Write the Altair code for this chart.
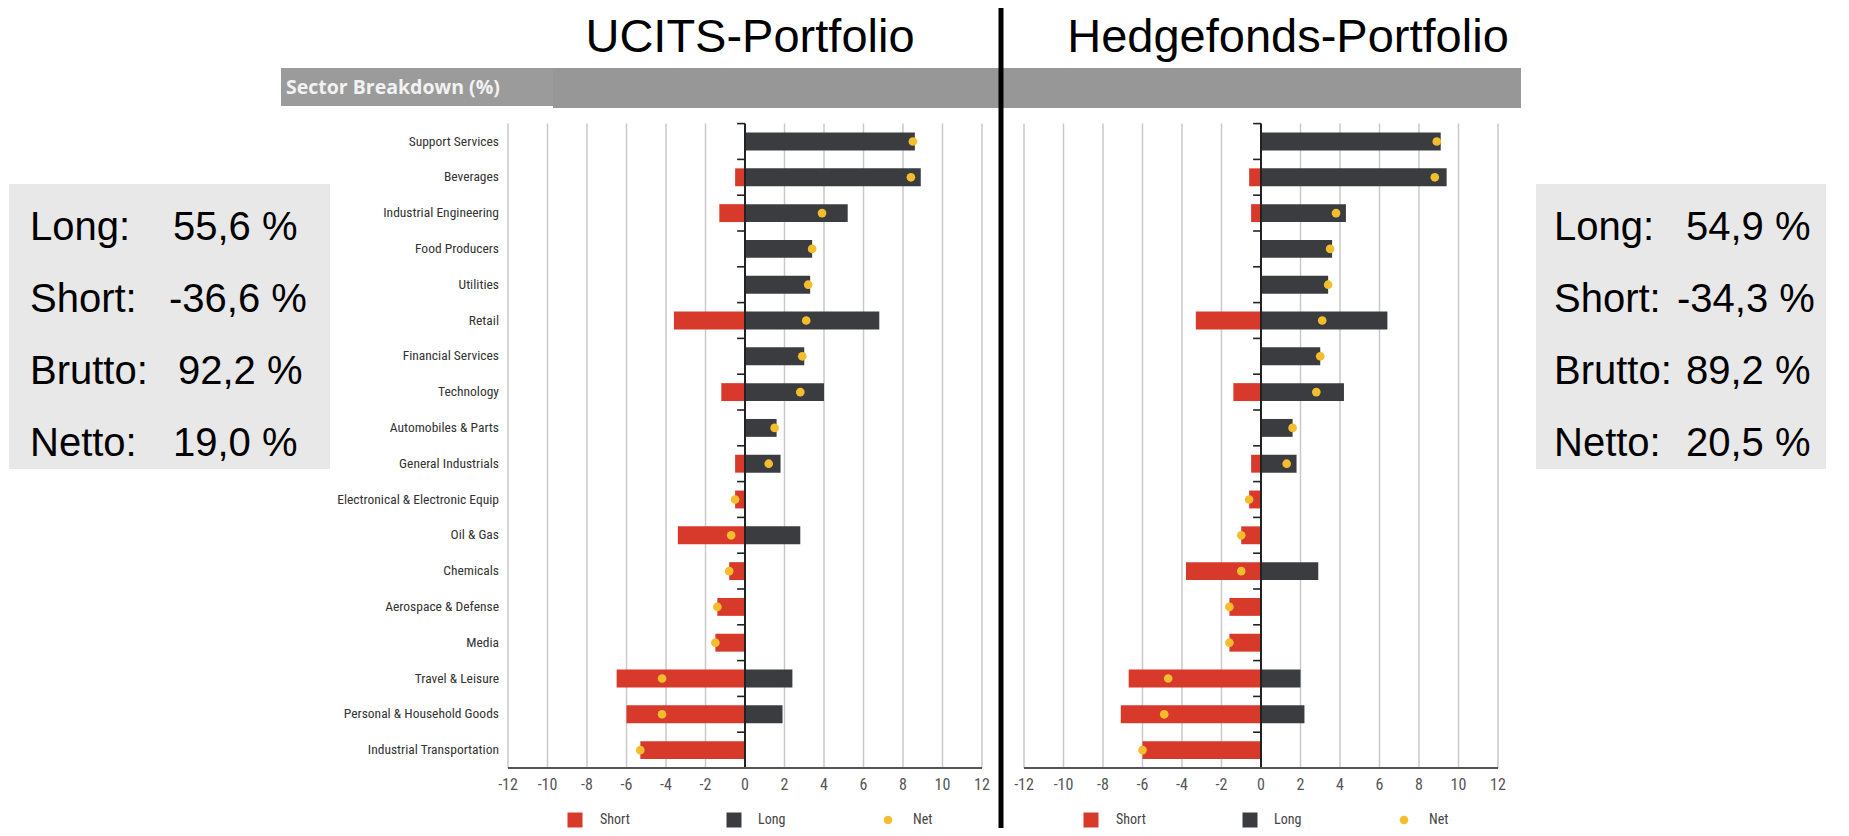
import altair as alt
import pandas as pd

# ---------------- data ----------------
sectors = [
    "Support Services", "Beverages", "Industrial Engineering", "Food Producers",
    "Utilities", "Retail", "Financial Services", "Technology",
    "Automobiles & Parts", "General Industrials", "Electronical & Electronic Equip",
    "Oil & Gas", "Chemicals", "Aerospace & Defense", "Media", "Travel & Leisure",
    "Personal & Household Goods", "Industrial Transportation",
]
ucits_short = [0, -0.5, -1.3, 0, 0, -3.6, 0, -1.2, 0, -0.5, -0.5, -3.4, -0.8, -1.4, -1.5, -6.5, -6.0, -5.3]
ucits_long = [8.6, 8.9, 5.2, 3.4, 3.3, 6.8, 3.0, 4.0, 1.6, 1.8, 0, 2.8, 0, 0, 0, 2.4, 1.9, 0]
ucits_net = [8.5, 8.4, 3.9, 3.4, 3.2, 3.1, 2.9, 2.8, 1.5, 1.2, -0.5, -0.7, -0.8, -1.4, -1.5, -4.2, -4.2, -5.3]

hedge_short = [0, -0.6, -0.5, 0, 0, -3.3, 0, -1.4, 0, -0.5, -0.6, -1.0, -3.8, -1.6, -1.6, -6.7, -7.1, -6.0]
hedge_long = [9.1, 9.4, 4.3, 3.6, 3.4, 6.4, 3.0, 4.2, 1.6, 1.8, 0, 0, 2.9, 0, 0, 2.0, 2.2, 0]
hedge_net = [8.9, 8.8, 3.8, 3.5, 3.4, 3.1, 3.0, 2.8, 1.6, 1.3, -0.6, -1.0, -1.0, -1.6, -1.6, -4.7, -4.9, -6.0]

ticks = [-12, -10, -8, -6, -4, -2, 0, 2, 4, 6, 8, 10, 12]
tick_labels = ["-12", "-10", "-8", "-6", "-4", "-2", "0", "2", "4", "6", "8", "10", "12"]
legend_names = ["Short", "Long", "Net"]
stats_names = ["Long:", "Short:", "Brutto:", "Netto:"]
ucits_stats = ["55,6 %", "-36,6 %", "92,2 %", "19,0 %"]
hedge_stats = ["54,9 %", "-34,3 %", "89,2 %", "20,5 %"]
titles = ["UCITS-Portfolio", "Hedgefonds-Portfolio"]
header_text = "Sector Breakdown (%)"

# ---------------- style / layout ----------------
RED = "#d7392b"
DARK = "#3b3c3f"
YEL = "#f3bd2e"
GRID = "#c9c9c9"
NARROW = "Liberation Sans Narrow, Roboto Condensed, Arial Narrow, sans-serif"
ARIAL = "Liberation Sans, Arial, sans-serif"

W, H = 1833, 820
Y0, Y1 = 115.6, 760.0
STEP = (Y1 - Y0) / len(sectors)

ys = alt.Scale(domain=sectors, range=[Y0, Y1], paddingInner=0.5, paddingOuter=0.25)
Yenc = alt.Y("sector:N", sort=sectors, scale=ys, axis=None)


def txt(s, x, y, size, font=ARIAL, color="black", align="left", baseline="alphabetic", weight="normal"):
    return alt.Chart(pd.DataFrame({"s": [s]})).mark_text(
        font=font, fontSize=size, color=color, align=align, baseline=baseline, fontWeight=weight
    ).encode(x=alt.value(x), y=alt.value(y), text="s:N")


def rect(x0, x1, y0, y1, color):
    return alt.Chart(pd.DataFrame({"a": [0]})).mark_rect(color=color).encode(
        x=alt.value(x0), x2=alt.value(x1), y=alt.value(y0), y2=alt.value(y1))


def panel(short, long_, net, x0, x1, show_labels):
    xs = alt.Scale(domain=[-12, 12], range=[x0, x1], nice=False, zero=False)

    def X(f):
        return alt.X(f, type="quantitative", scale=xs, axis=None)

    df = pd.DataFrame({"sector": sectors, "short": short, "long": long_, "net": net, "zero": 0.0})
    tdf = pd.DataFrame({"t": ticks, "lab": tick_labels})
    base = alt.Chart(df)

    grid = alt.Chart(tdf).transform_filter("datum.t != 0").mark_rule(
        color=GRID, strokeWidth=1.5
    ).encode(x=X("t"), y=alt.value(Y0), y2=alt.value(Y1))
    short_b = base.mark_bar(color=RED).encode(x=X("short"), x2="zero", y=Yenc)
    long_b = base.mark_bar(color=DARK).encode(x=X("long"), x2="zero", y=Yenc)
    zero_ax = alt.Chart(pd.DataFrame({"z": [0.0]})).mark_rule(color="#222", strokeWidth=2).encode(
        x=X("z"), y=alt.value(Y0), y2=alt.value(Y1)
    )
    bticks = base.transform_calculate(a="-0.4").mark_rule(
        color="#222", strokeWidth=1.6, yOffset=-STEP / 2
    ).encode(x=X("a"), x2="zero", y=Yenc)
    bticks_end = base.transform_filter(
        alt.datum.sector == sectors[-1]
    ).transform_calculate(a="-0.4").mark_rule(
        color="#222", strokeWidth=1.6, yOffset=STEP / 2
    ).encode(x=X("a"), x2="zero", y=Yenc)
    xdom = alt.Chart(pd.DataFrame({"lo": [ticks[0]], "hi": [ticks[-1]]})).mark_rule(
        color="#555", strokeWidth=2
    ).encode(x=X("lo"), x2="hi", y=alt.value(Y1))
    tlabels = alt.Chart(tdf).mark_text(
        font=NARROW, fontSize=16, color="#555", baseline="middle"
    ).encode(x=X("t"), y=alt.value(777), text="lab:N")
    dots = base.mark_circle(size=75, color=YEL, opacity=1).encode(x=X("net"), y=Yenc)

    layers = [grid, short_b, long_b, zero_ax, bticks, bticks_end, xdom, tlabels, dots]
    if show_labels:
        layers.append(
            base.mark_text(align="right", baseline="middle", font=NARROW, fontSize=13.5, color="#333").encode(
                x=alt.value(x0 - 9), y=Yenc, text="sector:N"
            )
        )
    # legend
    LY = 812
    leg = [
        alt.Chart(pd.DataFrame({"n": [legend_names[0]]})).mark_square(size=225, color=RED, opacity=1).encode(
            x=alt.value(x0 + 67), y=alt.value(LY)),
        alt.Chart(pd.DataFrame({"n": [legend_names[1]]})).mark_square(size=225, color=DARK, opacity=1).encode(
            x=alt.value(x0 + 226), y=alt.value(LY)),
        alt.Chart(pd.DataFrame({"n": [legend_names[2]]})).mark_circle(size=75, color=YEL, opacity=1).encode(
            x=alt.value(x0 + 380), y=alt.value(LY)),
    ]
    for name, off in zip(legend_names, [92, 250, 405]):
        leg.append(txt(name, x0 + off, LY, 14, font=NARROW, color="#444", baseline="middle"))
    return alt.layer(*layers, *leg)


left = panel(ucits_short, ucits_long, ucits_net, 500.0, 974.0, True)
right = panel(hedge_short, hedge_long, hedge_net, 1016.0, 1490.0, False)

deco = []
# header bar (two slightly different grey segments)
deco.append(rect(545, 1513, 60, 100, "#979797"))
deco.append(rect(273, 545, 60, 98, "#9b9b9b"))
deco.append(txt(header_text, 278, 80, 19.5, font="Open Sans", color="#f2f2f2", baseline="middle", weight="bold"))
# stat boxes
for bx0, bx1 in [(1, 322), (1528, 1818)]:
    deco.append(rect(bx0, bx1, 176, 461, "#e8e8e8"))
base_y = [232, 304, 376, 448]
for i, (nm, uv, hv) in enumerate(zip(stats_names, ucits_stats, hedge_stats)):
    deco.append(txt(nm, 22, base_y[i], 40))
    deco.append(txt(uv, [165, 161, 170, 165][i], base_y[i], 40))
    deco.append(txt(nm, 1546, base_y[i], 40))
    deco.append(txt(hv, [1678, 1669, 1678, 1678][i], base_y[i], 40))
# titles
deco.append(txt(titles[0], 742, 44, 47, align="center"))
deco.append(txt(titles[1], 1280, 44, 47, align="center"))

divider = alt.Chart(pd.DataFrame({"a": [0]})).mark_rule(color="black", strokeWidth=5).encode(
    x=alt.value(993), y=alt.value(0), y2=alt.value(H))

chart = alt.layer(*deco, left, right, divider).resolve_scale(x="independent").properties(
    width=W, height=H, autosize="none", padding=0, background="white"
).configure_view(stroke=None)

chart.save("out.html", embed_options={"renderer": "svg", "actions": False})
